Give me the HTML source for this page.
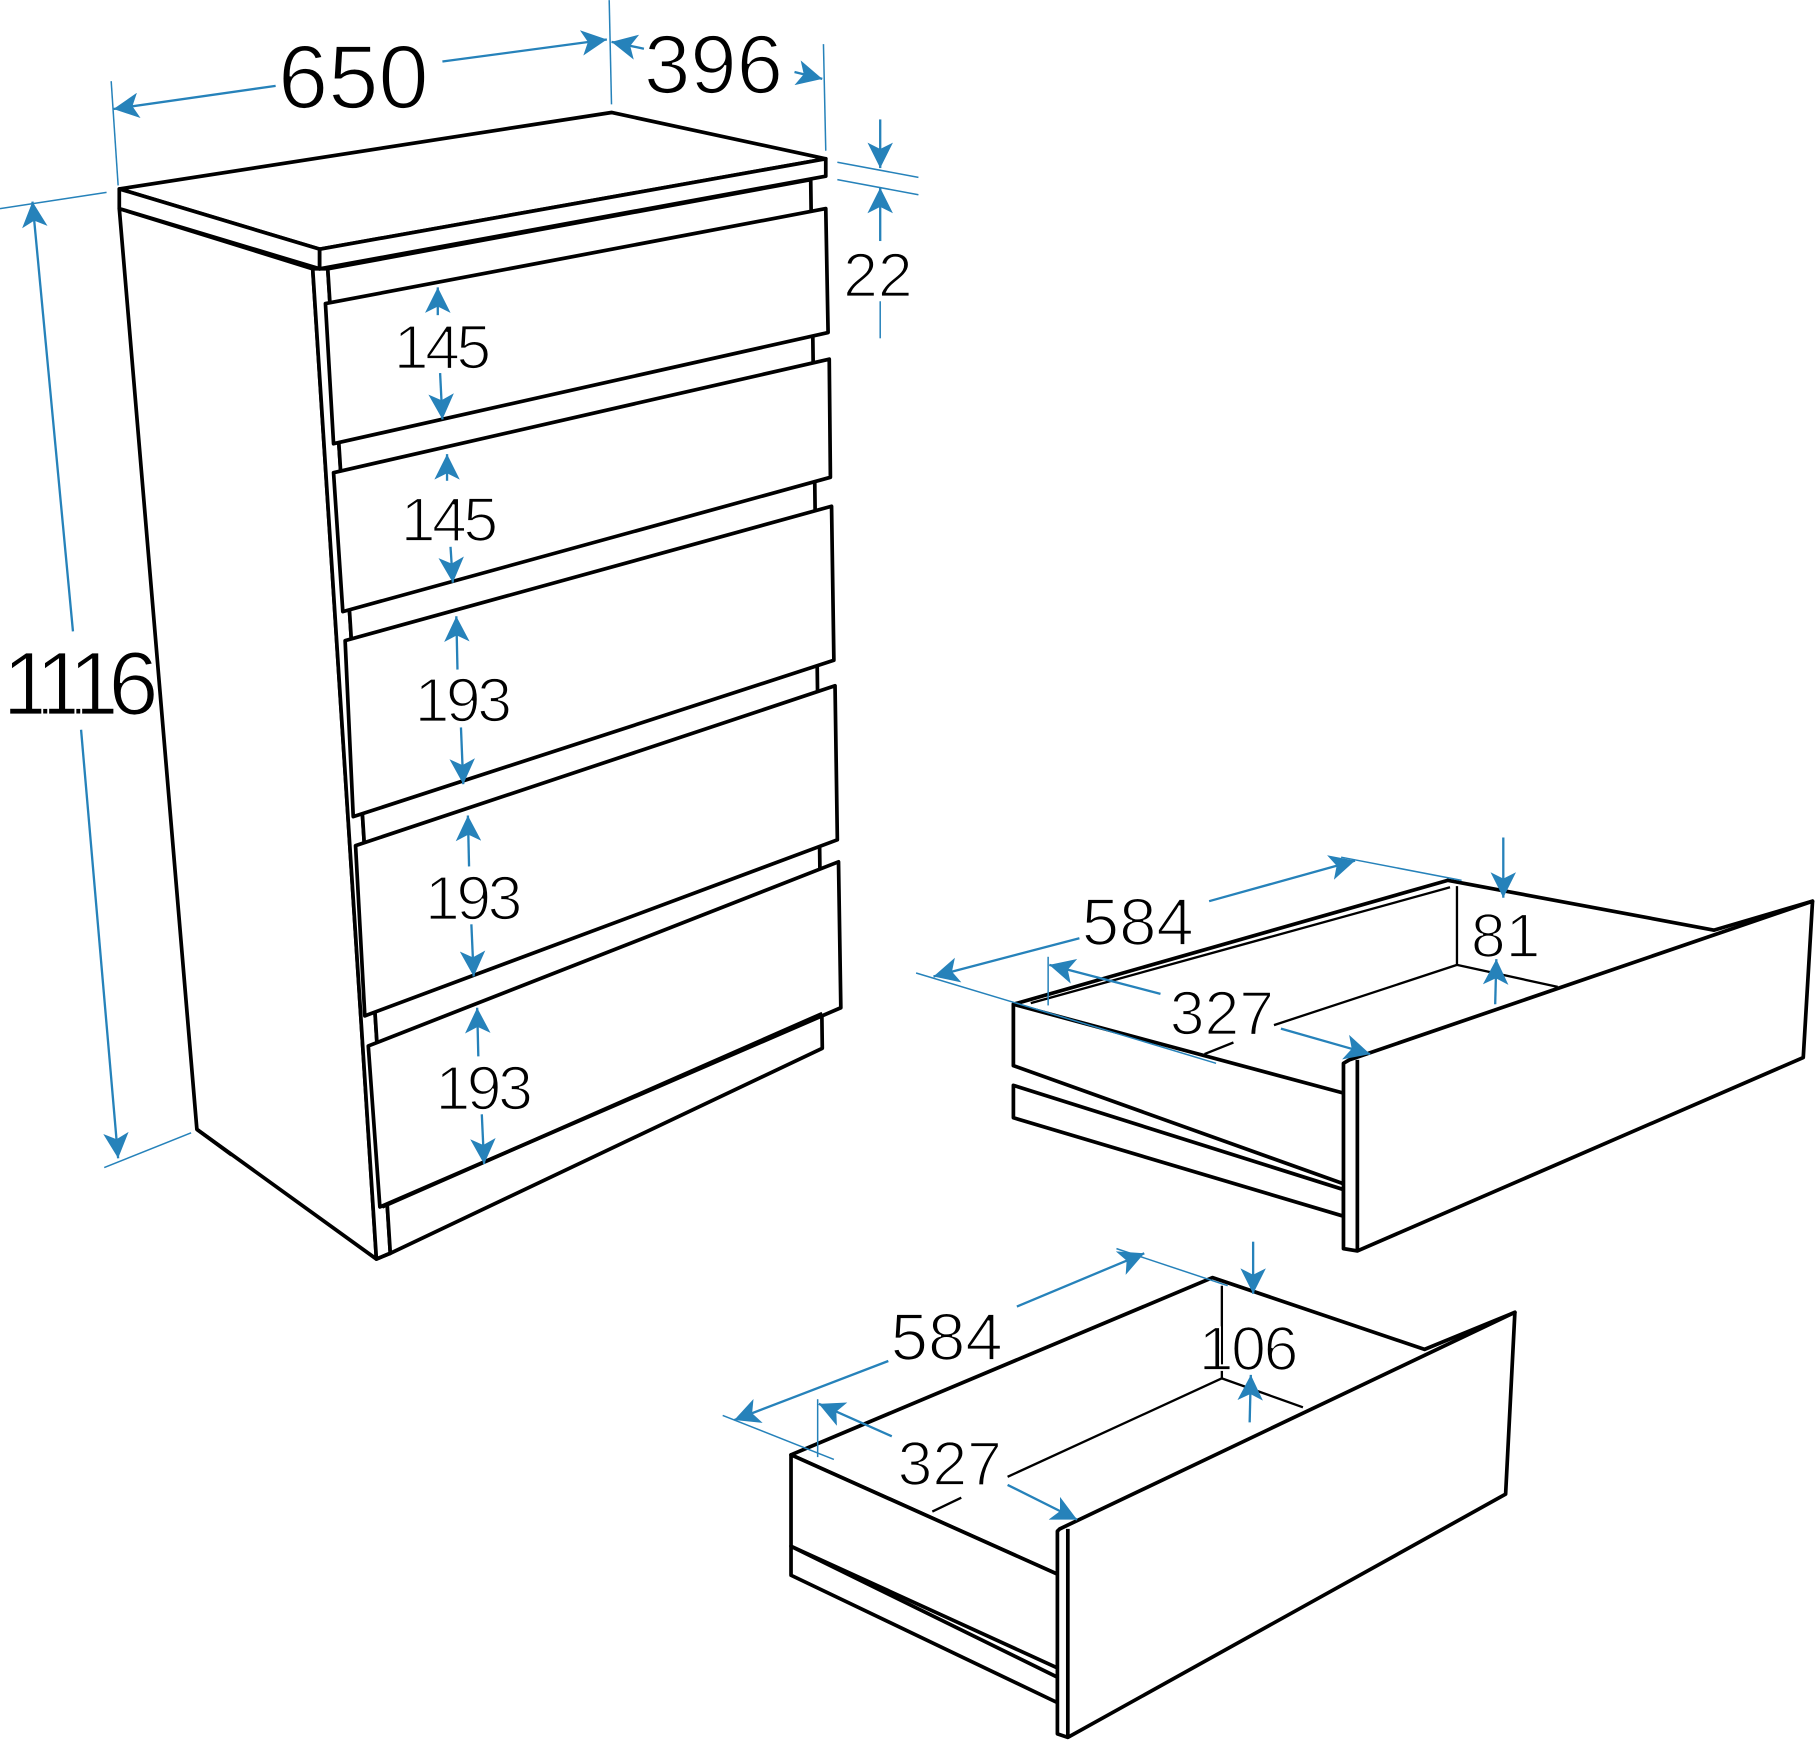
<!DOCTYPE html>
<html><head><meta charset="utf-8"><style>
html,body{margin:0;padding:0;background:#fff}
svg{display:block}
text{font-family:"Liberation Sans",sans-serif;fill:#000;stroke:#fff;stroke-width:1.6px}
</style></head><body>
<svg width="1816" height="1741" viewBox="0 0 1568 1503" xmlns="http://www.w3.org/2000/svg">
<defs>
<marker id="b" viewBox="0 0 10 10" refX="10" refY="5" markerWidth="24" markerHeight="22" orient="auto-start-reverse" markerUnits="userSpaceOnUse">
<path d="M0,0 L10,5 L0,10 L2.5,5 z" fill="#2682ba"/></marker>
</defs>
<g fill="#fff" stroke="#000" stroke-width="3.2" stroke-linejoin="round">
<polygon points="103,180 270,232 325,1087 170,975"/>
<polygon points="270,232 283,232 337,1082 325,1087"/>
<polygon points="283,232 700,155 710,905 337,1082"/>
<polygon points="103,163 528,97 713,137 276,215"/>
<polygon points="103,163 276,215 276,232 103,180"/>
<polygon points="276,215 713,137 713,152 276,232"/>
<polygon points="281,262 713,180 715,287 288,383"/>
<polygon points="288,408 716,310 717,412 296,528"/>
<polygon points="298,553 718,437 720,570 305,705"/>
<polygon points="307,730 721,592 723,725 315,877"/>
<polygon points="318,903 724,744 726,870 328,1042"/>
<line x1="330" y1="1042" x2="710" y2="875"/>
<line x1="325" y1="1087" x2="337" y2="1082"/>
<line x1="170" y1="975" x2="200" y2="997"/>
</g>
<g fill="#fff" stroke="#000" stroke-width="3.2" stroke-linejoin="round">
<polygon points="875,867 1250,760 1480,803 1565,778 1172,915 1165,945 875,920"/>
<line x1="1258" y1="765" x2="1258" y2="833" stroke-width="2"/>
<line x1="1258" y1="833" x2="1345" y2="852" stroke-width="2"/>
<line x1="1258" y1="833" x2="1100" y2="885" stroke-width="2"/>
<line x1="1040" y1="910" x2="1065" y2="900" stroke-width="2"/>
<line x1="890" y1="866" x2="1252" y2="766" stroke-width="2"/>
<polygon points="875,867 1165,945 1160,1022 875,920"/>
<polygon points="875,937 1160,1027 1160,1050 875,965"/>
<polygon points="1165,915 1565,778 1557,913 1172,1080 1160,1078 1160,918"/>
<line x1="1172" y1="915" x2="1172" y2="1080"/>
</g>
<g fill="#fff" stroke="#000" stroke-width="3.2" stroke-linejoin="round">
<polygon points="683,1256 1047,1103 1230,1165 1308,1133 922,1320 915,1360 683,1256"/>
<line x1="1055" y1="1110" x2="1055" y2="1190" stroke-width="2"/>
<line x1="1055" y1="1190" x2="1125" y2="1215" stroke-width="2"/>
<line x1="1055" y1="1190" x2="870" y2="1275" stroke-width="2"/>
<line x1="805" y1="1305" x2="830" y2="1293" stroke-width="2"/>
<polygon points="683,1256 915,1360 913,1440 683,1335"/>
<polygon points="683,1335 913,1448 913,1470 683,1360"/>
<polygon points="915,1320 1308,1133 1300,1290 922,1500 913,1497 913,1322"/>
<line x1="922" y1="1320" x2="922" y2="1500"/>
</g>
<g stroke="#2682ba" stroke-width="2" fill="none">
<line x1="96" y1="70" x2="102" y2="160" stroke-width="1.3"/>
<line x1="526" y1="0" x2="528" y2="90" stroke-width="1.3"/>
<line x1="711" y1="38" x2="713" y2="130" stroke-width="1.3"/>
<line x1="0" y1="180" x2="92" y2="166" stroke-width="1.3"/>
<line x1="90" y1="1008" x2="165" y2="978" stroke-width="1.3"/>
<line x1="723" y1="140" x2="793" y2="153" stroke-width="1.3"/>
<line x1="723" y1="155" x2="793" y2="168" stroke-width="1.3"/>
<line x1="98" y1="94" x2="238" y2="74" marker-start="url(#b)"/>
<line x1="382" y1="53" x2="524" y2="34" marker-end="url(#b)"/>
<line x1="528" y1="36" x2="556" y2="42" marker-start="url(#b)"/>
<line x1="686" y1="62" x2="710" y2="68" marker-end="url(#b)"/>
<line x1="28" y1="174" x2="63" y2="545" marker-start="url(#b)"/>
<line x1="70" y1="630" x2="102" y2="1000" marker-end="url(#b)"/>
<line x1="760" y1="103" x2="760" y2="145" marker-end="url(#b)"/>
<line x1="760" y1="208" x2="760" y2="162" marker-end="url(#b)"/>
<line x1="760" y1="260" x2="760" y2="292" stroke-width="1.3"/>
<line x1="378" y1="272" x2="378" y2="248" marker-end="url(#b)"/>
<line x1="380" y1="322" x2="382" y2="362" marker-end="url(#b)"/>
<line x1="386" y1="415" x2="386" y2="392" marker-end="url(#b)"/>
<line x1="389" y1="472" x2="391" y2="503" marker-end="url(#b)"/>
<line x1="395" y1="578" x2="394" y2="532" marker-end="url(#b)"/>
<line x1="398" y1="628" x2="400" y2="677" marker-end="url(#b)"/>
<line x1="405" y1="748" x2="404" y2="704" marker-end="url(#b)"/>
<line x1="407" y1="798" x2="409" y2="843" marker-end="url(#b)"/>
<line x1="413" y1="912" x2="412" y2="870" marker-end="url(#b)"/>
<line x1="416" y1="962" x2="418" y2="1005" marker-end="url(#b)"/>
<line x1="791" y1="840" x2="1050" y2="918" stroke-width="1.3"/>
<line x1="1158" y1="740" x2="1262" y2="760" stroke-width="1.3"/>
<line x1="905" y1="826" x2="905" y2="868" stroke-width="1.3"/>
<line x1="932" y1="810" x2="806" y2="843" marker-end="url(#b)"/>
<line x1="1044" y1="778" x2="1170" y2="743" marker-end="url(#b)"/>
<line x1="1002" y1="858" x2="906" y2="833" marker-end="url(#b)"/>
<line x1="1106" y1="888" x2="1183" y2="910" marker-end="url(#b)"/>
<line x1="1298" y1="723" x2="1298" y2="775" marker-end="url(#b)"/>
<line x1="1292" y1="828" x2="1291" y2="867" marker-start="url(#b)"/>
<line x1="624" y1="1222" x2="720" y2="1260" stroke-width="1.3"/>
<line x1="964" y1="1078" x2="1060" y2="1110" stroke-width="1.3"/>
<line x1="706" y1="1208" x2="706" y2="1258" stroke-width="1.3"/>
<line x1="767" y1="1175" x2="634" y2="1226" marker-end="url(#b)"/>
<line x1="878" y1="1128" x2="988" y2="1082" marker-end="url(#b)"/>
<line x1="770" y1="1240" x2="707" y2="1212" marker-end="url(#b)"/>
<line x1="870" y1="1282" x2="930" y2="1312" marker-end="url(#b)"/>
<line x1="1082" y1="1072" x2="1082" y2="1117" marker-end="url(#b)"/>
<line x1="1080" y1="1187" x2="1079" y2="1228" marker-start="url(#b)"/>
</g>
<g>
<text x="240" y="93" font-size="78">650</text>
<text x="556" y="80" font-size="72">396</text>
<text x="2" y="617" font-size="78" letter-spacing="-9">1116</text>
</g>
<g font-size="54">
<text x="340" y="318" letter-spacing="-3">145</text>
<text x="346" y="467" letter-spacing="-3">145</text>
<text x="728" y="256">22</text>
<text x="358" y="623" letter-spacing="-3">193</text>
<text x="367" y="794" letter-spacing="-3">193</text>
<text x="376" y="958" letter-spacing="-3">193</text>
<text x="934" y="816" font-size="58">584</text>
<text x="1010" y="893">327</text>
<text x="1270" y="826">81</text>
<text x="769" y="1174" font-size="58">584</text>
<text x="775" y="1282">327</text>
<text x="1035" y="1183" letter-spacing="-2">106</text>
</g>
</svg>
</body></html>
